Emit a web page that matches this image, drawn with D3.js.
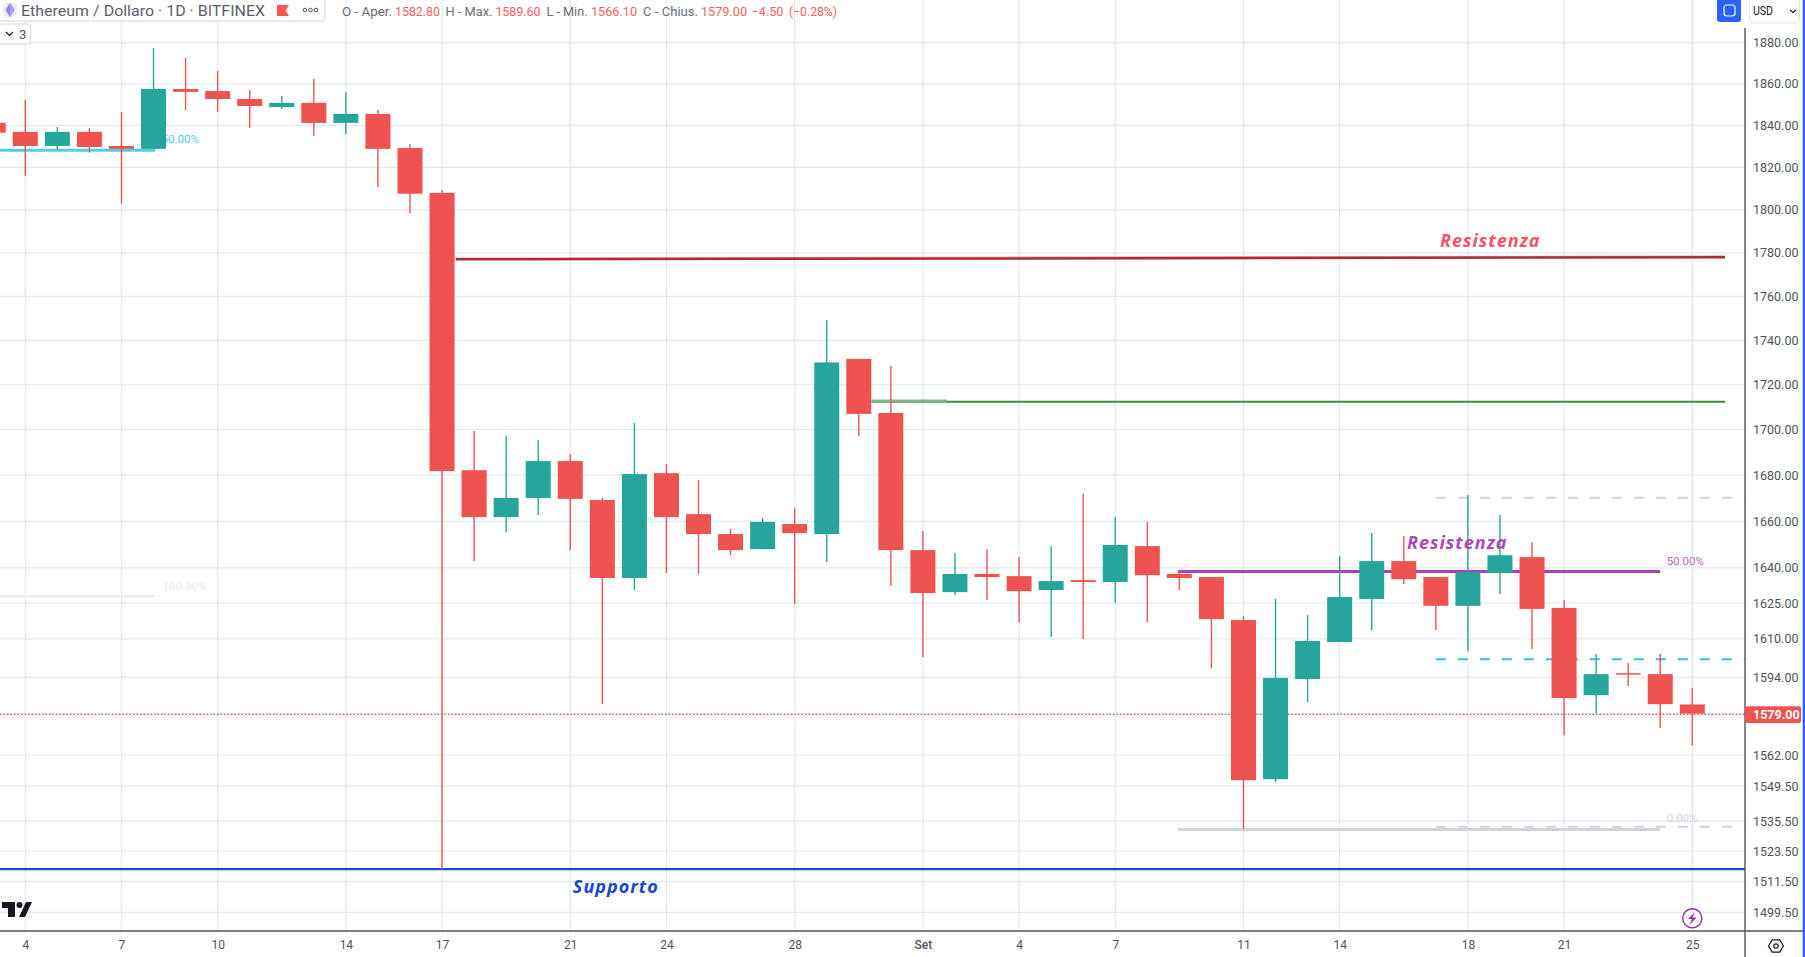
<!DOCTYPE html>
<html>
<head>
<meta charset="utf-8">
<title>Ethereum / Dollaro</title>
<script src="https://cdnjs.cloudflare.com/ajax/libs/d3/7.8.5/d3.min.js"></script>
<style>
  html, body { margin: 0; padding: 0; background: #fff; overflow: hidden; }
  svg { display: block; }
  text { font-family: Roboto, sans-serif; }
</style>
</head>
<body>
<div id="chart"></div>
<script>
// D3 candlestick chart, ETH/USD daily

// first candle is Aug 3 (day -1), last one is Sep 25 (day 52)
const firstDay = -1;
const opens = [1841.2, 1836.9, 1830.2, 1836.9, 1830.2, 1828.8, 1857.5, 1856.5, 1852.7, 1848.8, 1850.8, 1841.2, 1845.5, 1829.2, 1808,
  1682.2, 1661.8, 1670.1, 1686.2, 1669.2, 1635.7, 1680.9, 1663.1, 1654.5, 1648, 1658.8, 1654.5, 1731.6, 1707.4, 1647.6, 1629.7,
  1637.4, 1636.5, 1630.6, 1634.8, 1634, 1649.3, 1637.4, 1636.1, 1617.9, 1552.3, 1593.3, 1608.7, 1626.8, 1642.9, 1636.1, 1623.9,
  1637.8, 1644.6, 1623, 1586.6, 1595.7, 1595.3, 1582.8];
const highs = [1843, 1852.2, 1839.2, 1838.8, 1846.4, 1877.4, 1872.5, 1866.2, 1857, 1854.1, 1862.3, 1856.1, 1847.4, 1831.1, 1809.4,
  1699.4, 1697.2, 1695.4, 1689.2, 1670.1, 1702.9, 1684.9, 1677.9, 1656.7, 1661.4, 1665.7, 1749.2, 1731.6, 1728.5, 1655.8, 1646.3,
  1648, 1644.6, 1649.3, 1671.9, 1661.8, 1659.7, 1639.1, 1636.1, 1619.5, 1626.8, 1620, 1645, 1654.9, 1653.6, 1636.1, 1671.4,
  1662.7, 1651, 1626.4, 1603.7, 1599.9, 1603.7, 1589.6];
const lows = [1833, 1816.1, 1828.3, 1827, 1802.9, 1828.8, 1847.4, 1846.4, 1838.8, 1847.9, 1835, 1835.9, 1810.8, 1798.6, 1516.4,
  1642.9, 1655.3, 1662.7, 1647.6, 1582.9, 1630.6, 1637.8, 1637.4, 1645.4, 1648, 1624.7, 1642.5, 1697.2, 1632.3, 1602.4, 1628.5,
  1626.4, 1617, 1610.8, 1610, 1625, 1617, 1630.6, 1597.8, 1532.3, 1551.1, 1583.8, 1608.7, 1613.7, 1633.1, 1613.7, 1604.9,
  1628.9, 1605.8, 1570.2, 1579.3, 1590.4, 1573.1, 1566.1];
const closes = [1836.5, 1830.2, 1836.9, 1829.7, 1828.8, 1857.5, 1856.1, 1852.7, 1849.3, 1850.8, 1841.2, 1845.5, 1828.8, 1807.6, 1681.8,
  1661.8, 1670.1, 1686.2, 1669.7, 1635.7, 1680.5, 1661.8, 1654.5, 1647.6, 1659.7, 1654.9, 1730, 1707, 1647.6, 1629.3, 1637.4,
  1636.1, 1630.1, 1634.4, 1634, 1649.8, 1636.9, 1635.7, 1618.3, 1551.9, 1593.7, 1609.1, 1627.6, 1642.9, 1635.2, 1623.9, 1638.2,
  1645.4, 1622.6, 1585.4, 1595.3, 1595.4, 1582.9, 1579];

const priceTicks = [1880, 1860, 1840, 1820, 1800, 1780, 1760, 1740, 1720, 1700, 1680, 1660, 1640, 1625, 1610, 1594, 1579, 1562, 1549.5, 1535.5, 1523.5, 1511.5, 1499.5];
const dayTicks = [0, 3, 6, 10, 13, 17, 20, 24, 28, 31, 34, 38, 41, 45, 48, 52];
const dayLabels = ["4", "7", "10", "14", "17", "21", "24", "28", "Set", "4", "7", "11", "14", "18", "21", "25"];

const lastPrice = 1579;
const supportPrice = 1516.4;
const fibLines = [
  { from: 13.43, to: 53.02, p1: 1777.6, p2: 1778.6, color: "#f4b0b8", w: 1.2 },
  { from: 13.43, to: 53.02, p1: 1777, p2: 1778, color: "#b22833", w: 2.5 },
  { from: 26.4, to: 53.02, p1: 1712.4, p2: 1712.4, color: "#388e3c", w: 2.2 },
  { from: 26.4, to: 28.75, p1: 1712.7, p2: 1712.7, color: "#81b784", w: 3 },
  { from: 35.95, to: 51, p1: 1638.5, p2: 1638.5, color: "#ab3fbd", w: 3 },
  { from: 35.95, to: 51, p1: 1532.1, p2: 1532.1, color: "#d1d4dc", w: 3 },
  { from: -0.8, to: 4.05, p1: 1828.2, p2: 1828.2, color: "#4dd0e1", w: 3 },
  { from: -0.8, to: 4.05, p1: 1627.9, p2: 1627.9, color: "#eeeef2", w: 3 }
];
const dashLines = [
  { from: 44, price: 1670.2, color: "#d1d4dc" },
  { from: 44, price: 1601.5, color: "#26c6da" },
  { from: 44, price: 1533.2, color: "#d1d4dc" }
];
const fibLabels = [
  { day: 51.2, price: 1643, text: "50.00%", color: "#ba68c8" },
  { day: 51.2, price: 1536.7, text: "0.00%", color: "#d1d4dc" },
  { day: 4.25, price: 1833.4, text: "50.00%", color: "#4dd0e1" },
  { day: 4.29, price: 1632.4, text: "100.00%", color: "#eaeaef" }
];
const notes = [
  { day: 44.13, price: 1782.8, text: "Resistenza", color: "#f8526a" },
  { day: 43.1, price: 1648.2, text: "Resistenza", color: "#ab47bc" },
  { day: 17.08, price: 1507, text: "Supporto", color: "#1848cc" }
];
const ohlcText = [
  { x: 342, text: "O - Aper.", w: 50, up: false },
  { x: 395, text: "1582.80", w: 45, up: true },
  { x: 445.5, text: "H - Max.", w: 47, up: false },
  { x: 495.4, text: "1589.60", w: 45, up: true },
  { x: 546.5, text: "L - Min.", w: 41, up: false },
  { x: 591, text: "1566.10", w: 46, up: true },
  { x: 643, text: "C - Chius.", w: 55, up: false },
  { x: 701, text: "1579.00", w: 46, up: true },
  { x: 751.5, text: "\u22124.50", w: 32, up: true },
  { x: 789, text: "(\u22120.28%)", w: 48, up: true }
];

const width = 1805, height = 957;
const axisX = 1745, axisY = 931;
const bodyWidth = 25;
const gridColor = "#dfe9f0", axisColor = "#50535e", upColor = "#26a69a", downColor = "#ef5350";

const x = d3.scaleLinear().domain([0, 52]).range([25.3, 1692.3]);
const y = d3.scaleLog().domain([1499.5, 1880]).range([912.3, 42.7]);

const candles = opens.map((o, i) => ({ day: firstDay + i, o, h: highs[i], l: lows[i], c: closes[i] }));

const svg = d3.select("#chart").append("svg").attr("width", width).attr("height", height);
svg.append("rect").attr("width", width).attr("height", height).attr("fill", "#fff");

// grid
svg.append("g").selectAll("line").data(priceTicks).join("line")
  .attr("x1", 0).attr("x2", axisX)
  .attr("y1", d => y(d)).attr("y2", d => y(d))
  .attr("stroke", gridColor).attr("stroke-width", 1.2);
svg.append("g").selectAll("line").data(dayTicks).join("line")
  .attr("x1", d => x(d)).attr("x2", d => x(d))
  .attr("y1", 0).attr("y2", axisY)
  .attr("stroke", gridColor).attr("stroke-width", 1.2);

// drawings under the candles
svg.append("g").selectAll("line").data(fibLines).join("line")
  .attr("x1", d => x(d.from)).attr("x2", d => x(d.to))
  .attr("y1", d => y(d.p1)).attr("y2", d => y(d.p2))
  .attr("stroke", d => d.color).attr("stroke-width", d => d.w);
svg.append("g").selectAll("line").data(dashLines).join("line")
  .attr("x1", d => x(d.from)).attr("x2", axisX)
  .attr("y1", d => y(d.price)).attr("y2", d => y(d.price))
  .attr("stroke", d => d.color).attr("stroke-width", 2).attr("stroke-dasharray", "10 12");
svg.append("line")
  .attr("x1", 0).attr("x2", axisX).attr("y1", y(supportPrice)).attr("y2", y(supportPrice))
  .attr("stroke", "#1848cc").attr("stroke-width", 2.2);
svg.append("line")
  .attr("x1", 0).attr("x2", axisX).attr("y1", y(lastPrice) + 0.8).attr("y2", y(lastPrice) + 0.8)
  .attr("stroke", downColor).attr("stroke-width", 1.2).attr("stroke-dasharray", "1.5 2");
svg.append("g").selectAll("text").data(fibLabels).join("text")
  .attr("x", d => x(d.day)).attr("y", d => y(d.price))
  .attr("dy", "0.35em").attr("font-size", 11.5)
  .attr("fill", d => d.color).text(d => d.text);

// candles
const candle = svg.append("g").selectAll("g").data(candles).join("g")
  .attr("fill", d => d.c >= d.o ? upColor : downColor)
  .attr("stroke", d => d.c >= d.o ? upColor : downColor);
candle.append("line")
  .attr("x1", d => x(d.day)).attr("x2", d => x(d.day))
  .attr("y1", d => y(d.h)).attr("y2", d => y(d.l))
  .attr("stroke-width", 1.4);
candle.append("rect")
  .attr("x", d => x(d.day) - bodyWidth / 2).attr("width", bodyWidth)
  .attr("y", d => y(Math.max(d.o, d.c)))
  .attr("height", d => Math.max(1.5, y(Math.min(d.o, d.c)) - y(Math.max(d.o, d.c))))
  .attr("stroke", "none");

// text notes
svg.append("g").selectAll("text").data(notes).join("text")
  .attr("x", d => x(d.day)).attr("y", d => y(d.price))
  .attr("font-size", 18).attr("font-weight", 700).attr("font-style", "italic")
  .attr("letter-spacing", 1)
  .style("font-family", "'Open Sans', sans-serif")
  .attr("fill", d => d.color).text(d => d.text);

// axes
svg.append("rect").attr("x", axisX).attr("width", width - axisX).attr("height", height).attr("fill", "#fff");
svg.append("rect").attr("y", axisY).attr("width", axisX).attr("height", height - axisY).attr("fill", "#fff");

const yAxis = svg.append("g").attr("transform", `translate(${axisX},0)`)
  .call(d3.axisRight(y).tickValues(priceTicks).tickFormat(d3.format(".2f")).tickSize(0).tickPadding(8));
yAxis.select(".domain").remove();
yAxis.selectAll("text").attr("font-size", 12.5).attr("fill", axisColor).style("font-family", "Roboto, sans-serif");

const xAxis = svg.append("g").attr("transform", `translate(0,${axisY})`)
  .call(d3.axisBottom(x).tickValues(dayTicks).tickFormat((d, i) => dayLabels[i]).tickSize(0).tickPadding(9));
xAxis.select(".domain").remove();
xAxis.selectAll("text").attr("font-size", 12).attr("fill", axisColor)
  .attr("font-weight", (d, i) => dayLabels[i] === "Set" ? 500 : 400)
  .style("font-family", "Roboto, sans-serif");

svg.append("line").attr("x1", 0).attr("x2", 1803).attr("y1", axisY).attr("y2", axisY).attr("stroke", axisColor).attr("stroke-width", 1.4);
svg.append("line").attr("x1", axisX).attr("x2", axisX).attr("y1", 28).attr("y2", height).attr("stroke", axisColor).attr("stroke-width", 1.4);
svg.append("rect").attr("x", 1802.7).attr("width", 2.3).attr("height", height).attr("fill", "#2962ff");

// last price label
svg.append("rect").attr("x", axisX).attr("y", y(lastPrice) - 7.4).attr("width", 56).attr("height", 16.8).attr("rx", 2).attr("fill", downColor);
svg.append("text").attr("x", 1753).attr("y", y(lastPrice) + 1).attr("dy", "0.35em")
  .attr("font-size", 12.5).attr("font-weight", 700).attr("fill", "#fff").text(d3.format(".2f")(lastPrice));

// header pill
svg.append("rect").attr("x", -5).attr("y", -5).attr("width", 330).attr("height", 26).attr("rx", 4)
  .attr("fill", "#fff").attr("stroke", "#d6d8e0");
svg.append("circle").attr("cx", 10).attr("cy", 10).attr("r", 7.5).attr("fill", "#e6e7f7");
svg.append("path").attr("d", "M10 3 L14.5 10 L10 17 L5.5 10 Z").attr("fill", "#8c8ce8");
svg.append("path").attr("d", "M10 3 L10 17 L14.5 10 Z").attr("fill", "#b69be8");
svg.append("text").attr("x", 21).attr("y", 15.5).attr("font-size", 15.5).attr("fill", "#5d606b")
  .attr("textLength", 244).attr("lengthAdjust", "spacingAndGlyphs")
  .text("Ethereum  /  Dollaro \u00b7 1D \u00b7 BITFINEX");
svg.append("path").attr("d", "M277 5 H289 L285.5 10.5 L289 16 H277 Z").attr("fill", "#ff5252");
svg.append("g").selectAll("circle").data([305, 310.5, 316]).join("circle")
  .attr("cx", d => d).attr("cy", 10).attr("r", 1.8)
  .attr("fill", "none").attr("stroke", "#50535e").attr("stroke-width", 1);

// series toggle
svg.append("rect").attr("x", -4).attr("y", 24).attr("width", 34.5).attr("height", 20).attr("rx", 3)
  .attr("fill", "#fff").attr("stroke", "#d6d8e0");
svg.append("path").attr("d", "M6 32 L9.5 35.5 L13 32").attr("fill", "none").attr("stroke", "#131722").attr("stroke-width", 1.2);
svg.append("text").attr("x", 19).attr("y", 39).attr("font-size", 13).attr("fill", "#50535e").text("3");

// OHLC legend
svg.append("g").selectAll("text").data(ohlcText).join("text")
  .attr("x", d => d.x).attr("y", 15.5).attr("font-size", 13)
  .attr("textLength", d => d.w).attr("lengthAdjust", "spacingAndGlyphs")
  .attr("fill", d => d.up ? "#f7625f" : "#6a6d78").text(d => d.text);

// top right controls
svg.append("rect").attr("x", 1717).attr("y", -4).attr("width", 24).attr("height", 26).attr("rx", 3).attr("fill", "#2962ff");
svg.append("rect").attr("x", 1724).attr("y", 5).attr("width", 11).attr("height", 11).attr("rx", 3)
  .attr("fill", "none").attr("stroke", "#fff").attr("stroke-width", 1.2);
svg.append("rect").attr("x", 1749.5).attr("y", -4).attr("width", 50).attr("height", 27).attr("rx", 3)
  .attr("fill", "#fff").attr("stroke", "#e0e3eb");
svg.append("text").attr("x", 1753).attr("y", 15).attr("font-size", 12).attr("fill", "#131722")
  .attr("textLength", 20).attr("lengthAdjust", "spacingAndGlyphs").text("USD");
svg.append("path").attr("d", "M1790 10 L1793 12.5 L1796 10").attr("fill", "none").attr("stroke", "#131722").attr("stroke-width", 1.2);

// logo
const logo = svg.append("g").attr("fill", "#131722");
logo.append("path").attr("d", "M2 902 H15 V917 H8 V908 H2 Z");
logo.append("circle").attr("cx", 19.5).attr("cy", 905).attr("r", 3);
logo.append("path").attr("d", "M26 902 H32 L25 917 H19 Z");

// lightning badge
svg.append("circle").attr("cx", 1692.3).attr("cy", 918.3).attr("r", 9.6)
  .attr("fill", "#fff").attr("stroke", "#9c27b0").attr("stroke-width", 1.4);
svg.append("path").attr("d", "M1695 912 L1688 919 H1692 L1689.5 925 L1696.5 917.5 H1692.5 Z").attr("fill", "#9c27b0");

// settings button
const hex = d3.range(6).map(i => {
  const a = i * Math.PI / 3;
  return [1776 + 7.5 * Math.cos(a), 946 + 7 * Math.sin(a)];
});
svg.append("path").attr("d", d3.line()(hex) + "Z").attr("fill", "none").attr("stroke", "#131722").attr("stroke-width", 1.2);
svg.append("circle").attr("cx", 1776).attr("cy", 946).attr("r", 2.2).attr("fill", "none").attr("stroke", "#131722").attr("stroke-width", 1.2);
</script>
</body>
</html>
